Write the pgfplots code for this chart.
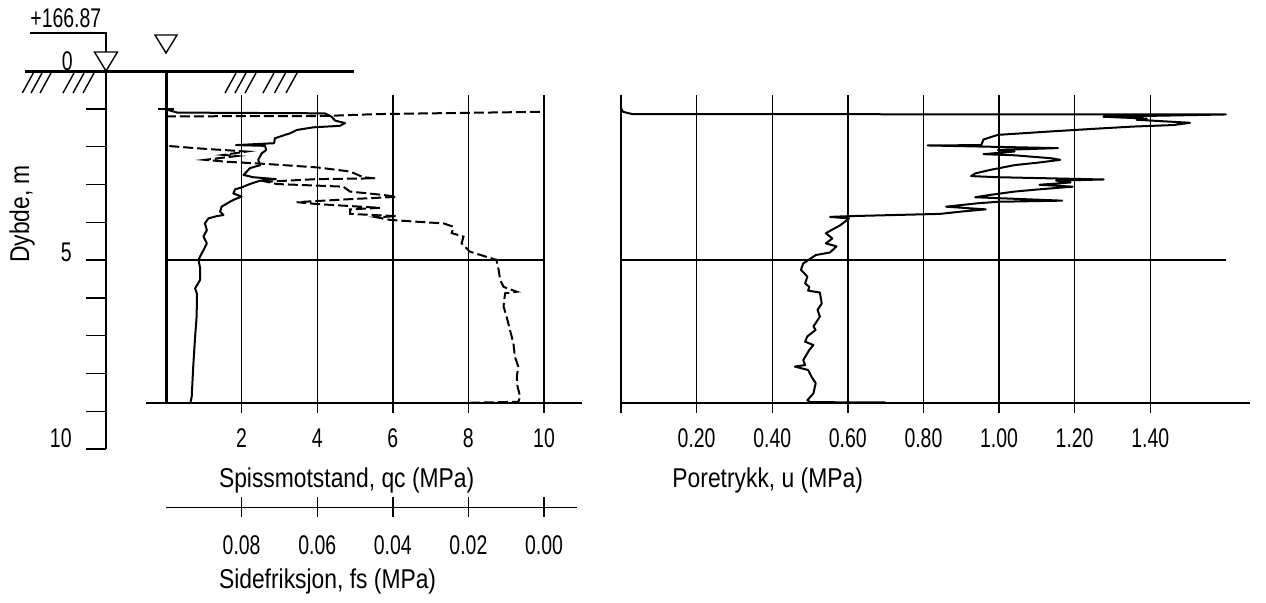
\documentclass[border=0pt]{standalone}
\usepackage{pgfplots}
\pgfplotsset{compat=1.18}
\usepackage{pgfplotstable}
\usepackage{fontspec}
\setmainfont{Liberation Sans}
\newfontfamily\numfont{Liberation Sans}[FakeStretch=0.72]
\newfontfamily\labfont{Liberation Sans}[FakeStretch=0.84]

\pgfplotstableread{
d q
1.03 0.05
1.10 0.30
1.12 4.20
1.21 4.38
1.31 4.47
1.38 4.74
1.45 4.60
1.49 3.90
1.56 3.46
1.65 3.28
1.69 3.15
1.78 2.88
1.91 2.86
1.96 1.85
1.98 2.62
2.09 2.65
2.18 2.53
2.35 2.44
2.49 2.49
2.57 2.22
2.71 2.09
2.75 2.05
2.81 2.31
2.86 2.91
2.90 2.49
2.99 2.22
3.08 2.00
3.13 1.83
3.24 1.78
3.32 2.00
3.39 1.83
3.46 1.69
3.59 1.47
3.72 1.43
3.81 1.52
3.84 1.34
3.90 1.12
4.03 1.03
4.21 1.08
4.38 0.99
4.56 1.08
4.74 0.99
4.91 0.90
5.00 0.86
5.20 0.90
5.53 0.90
5.75 0.77
5.90 0.82
6.50 0.81
7.03 0.77
7.82 0.72
8.62 0.68
8.76 0.65
}\qctab

\pgfplotstableread{
d fs
1.08 0.0011
1.14 0.0443
1.19 0.0580
1.20 0.0995
1.21 0.1000
1.97 0.1000
1.98 0.0998
2.05 0.0910
2.13 0.0787
2.22 0.0848
2.25 0.0813
2.35 0.0897
2.40 0.0840
2.46 0.0734
2.55 0.0601
2.66 0.0513
2.81 0.0478
2.84 0.0447
2.86 0.0601
2.93 0.0734
2.99 0.0707
3.06 0.0531
3.19 0.0513
3.28 0.0425
3.33 0.0390
3.39 0.0513
3.47 0.0654
3.52 0.0601
3.62 0.0434
3.66 0.0513
3.78 0.0513
3.84 0.0390
3.87 0.0443
3.94 0.0407
4.01 0.0302
4.03 0.0266
4.12 0.0240
4.29 0.0244
4.38 0.0213
4.56 0.0218
4.78 0.0196
5.00 0.0125
5.04 0.0125
5.26 0.0120
5.53 0.0116
5.71 0.0107
5.84 0.0072
5.88 0.0103
6.23 0.0107
6.50 0.0099
6.85 0.0090
7.20 0.0081
7.56 0.0077
7.82 0.0068
8.09 0.0072
8.35 0.0070
8.62 0.0063
8.75 0.0068
8.78 0.0210
}\fstab

\pgfplotstableread{
d u
0.98 0.000
1.08 0.005
1.14 0.030
1.15 1.600
1.21 1.276
1.26 1.391
1.29 1.364
1.37 1.505
1.43 1.461
1.47 1.355
1.52 1.267
1.60 1.135
1.69 0.997
1.81 0.959
1.96 0.953
1.97 0.811
2.04 1.156
2.09 0.997
2.13 1.041
2.20 0.959
2.23 1.041
2.31 1.140
2.35 1.162
2.42 1.107
2.49 1.041
2.62 0.975
2.71 0.937
2.78 0.926
2.81 0.997
2.87 1.277
2.90 1.151
2.95 1.189
3.01 1.107
3.06 1.195
3.13 1.107
3.19 1.041
3.28 0.975
3.34 0.937
3.43 1.167
3.46 0.997
3.50 0.943
3.59 0.860
3.66 0.965
3.72 0.899
3.78 0.844
3.84 0.603
3.86 0.553
3.90 0.603
3.99 0.592
4.08 0.580
4.29 0.542
4.43 0.559
4.56 0.542
4.64 0.570
4.80 0.553
4.87 0.515
5.09 0.482
5.26 0.476
5.44 0.493
5.62 0.487
5.71 0.498
5.81 0.495
5.86 0.526
6.15 0.531
6.32 0.520
6.50 0.526
6.76 0.509
6.85 0.515
7.02 0.493
7.16 0.487
7.25 0.509
7.38 0.498
7.65 0.482
7.78 0.487
7.82 0.460
7.91 0.495
8.09 0.504
8.26 0.515
8.53 0.509
8.71 0.493
8.76 0.500
8.77 0.700
}\utab

\tikzset{lab/.style={inner sep=0pt, font=\labfont\fontsize{13.6}{15}\selectfont},
         num/.style={inner sep=0pt, font=\numfont\fontsize{13.5}{15}\selectfont}}

\begin{document}
\begin{tikzpicture}
\begin{axis}[at={(0,0)}, anchor=south west, scale only axis,
  width=633pt, height=301pt,
  xmin=-4.392, xmax=29.101, ymin=-1.878, ymax=14.048,
  y dir=reverse, hide axis, clip=false]
% ground and hatching
\draw[line width=1.5pt] (axis cs:-3.73,0) -- (axis cs:4.974,0);
\draw[line width=0.7pt]
  (axis cs:-3.802,0.582) -- (axis cs:-3.511,0.053)
  (axis cs:-3.571,0.582) -- (axis cs:-3.280,0.053)
  (axis cs:-3.333,0.582) -- (axis cs:-3.042,0.053)
  (axis cs:-2.725,0.582) -- (axis cs:-2.434,0.053)
  (axis cs:-2.460,0.582) -- (axis cs:-2.169,0.053)
  (axis cs:-2.196,0.582) -- (axis cs:-1.905,0.053)
  (axis cs:1.561,0.582) -- (axis cs:1.852,0.053)
  (axis cs:1.825,0.582) -- (axis cs:2.116,0.053)
  (axis cs:2.090,0.582) -- (axis cs:2.381,0.053)
  (axis cs:2.566,0.582) -- (axis cs:2.857,0.053)
  (axis cs:2.870,0.582) -- (axis cs:3.161,0.053)
  (axis cs:3.175,0.582) -- (axis cs:3.466,0.053);
% depth axis
\draw[line width=0.7pt] (axis cs:-1.587,0) -- (axis cs:-1.587,10);
\draw[line width=0.7pt]
  (axis cs:-2.116,1) -- (axis cs:-1.587,1)
  (axis cs:-2.116,2) -- (axis cs:-1.587,2)
  (axis cs:-2.116,3) -- (axis cs:-1.587,3)
  (axis cs:-2.116,4) -- (axis cs:-1.587,4)
  (axis cs:-2.116,5) -- (axis cs:-1.587,5)
  (axis cs:-2.116,6) -- (axis cs:-1.587,6)
  (axis cs:-2.116,7) -- (axis cs:-1.587,7)
  (axis cs:-2.116,8) -- (axis cs:-1.587,8)
  (axis cs:-2.116,9) -- (axis cs:-1.587,9)
  (axis cs:-2.116,10) -- (axis cs:-1.587,10);
% elevation leader and water triangles
\draw[line width=0.7pt] (axis cs:-3.598,-1.005) -- (axis cs:-1.587,-1.005) -- (axis cs:-1.587,-0.503);
\draw[line width=0.7pt] (axis cs:-1.892,-0.503) -- (axis cs:-1.283,-0.503) -- (axis cs:-1.587,0) -- cycle;
\draw[line width=0.7pt] (axis cs:-0.291,-0.952) -- (axis cs:0.291,-0.952) -- (axis cs:0,-0.476) -- cycle;
% frame of the qc panel
\draw[line width=1.5pt] (axis cs:0,0) -- (axis cs:0,8.783);
\draw[line width=1pt] (axis cs:-0.529,8.783) -- (axis cs:11.005,8.783);
\draw[line width=0.7pt]
  (axis cs:2,0.635) -- (axis cs:2,9.05)
  (axis cs:4,0.635) -- (axis cs:4,9.05)
  (axis cs:6,0.635) -- (axis cs:6,9.05)
  (axis cs:8,0.635) -- (axis cs:8,9.05)
  (axis cs:10,0.635) -- (axis cs:10,9.05)
  (axis cs:0,5) -- (axis cs:10,5)
  (axis cs:-0.2,1) -- (axis cs:0.2,1);
% fs axis
\draw[line width=0.7pt]
  (axis cs:0,11.55) -- (axis cs:10.87,11.55)
  (axis cs:2,11.27) -- (axis cs:2,11.8)
  (axis cs:4,11.27) -- (axis cs:4,11.8)
  (axis cs:6,11.27) -- (axis cs:6,11.8)
  (axis cs:8,11.27) -- (axis cs:8,11.8)
  (axis cs:10,11.27) -- (axis cs:10,11.8);
% texts
\node[num, anchor=base west, font=\numfont\fontsize{13.5}{15}\selectfont] at (axis cs:-3.598,-1.164) {+166.87};
\node[num, anchor=base east] at (axis cs:-2.46,-0.026) {0};
\node[num, anchor=base east] at (axis cs:-2.487,5.03) {5};
\node[num, anchor=base east] at (axis cs:-2.487,9.97) {10};
\node[lab, rotate=90] at (axis cs:-3.81,3.78) {Dybde, m};
\node[num, anchor=base] at (axis cs:2,9.97) {2};
\node[num, anchor=base] at (axis cs:4,9.97) {4};
\node[num, anchor=base] at (axis cs:6,9.97) {6};
\node[num, anchor=base] at (axis cs:8,9.97) {8};
\node[num, anchor=base] at (axis cs:10,9.97) {10};
\node[lab, anchor=base west] at (axis cs:1.392,11.01) {Spissmotstand, qc (MPa)};
\node[num, anchor=base] at (axis cs:2,12.8) {0.08};
\node[num, anchor=base] at (axis cs:4,12.8) {0.06};
\node[num, anchor=base] at (axis cs:6,12.8) {0.04};
\node[num, anchor=base] at (axis cs:8,12.8) {0.02};
\node[num, anchor=base] at (axis cs:10,12.8) {0.00};
\node[lab, anchor=base west] at (axis cs:1.392,13.68) {Sidefriksjon, fs (MPa)};
% data
\addplot[line width=1pt, no marks, line join=round] table[x=q, y=d] {\qctab};
\addplot[line width=1pt, no marks, dash pattern=on 5pt off 2pt] table[x expr={10-100*\thisrow{fs}}, y=d] {\fstab};
\end{axis}

\begin{axis}[at={(0,0)}, anchor=south west, scale only axis,
  width=633pt, height=301pt,
  xmin=-1.6429, xmax=1.7063, ymin=-1.878, ymax=14.048,
  y dir=reverse, hide axis, clip=false]
\draw[line width=0.7pt]
  (axis cs:0,0.635) -- (axis cs:0,9.05)
  (axis cs:0.2,0.635) -- (axis cs:0.2,9.05)
  (axis cs:0.4,0.635) -- (axis cs:0.4,9.05)
  (axis cs:0.6,0.635) -- (axis cs:0.6,9.05)
  (axis cs:0.8,0.635) -- (axis cs:0.8,9.05)
  (axis cs:1.0,0.635) -- (axis cs:1.0,9.05)
  (axis cs:1.2,0.635) -- (axis cs:1.2,9.05)
  (axis cs:1.4,0.635) -- (axis cs:1.4,9.05)
  (axis cs:0,5) -- (axis cs:1.6,5);
\draw[line width=1pt] (axis cs:0,8.783) -- (axis cs:1.664,8.783);
\node[num, anchor=base] at (axis cs:0.2,9.97) {0.20};
\node[num, anchor=base] at (axis cs:0.4,9.97) {0.40};
\node[num, anchor=base] at (axis cs:0.6,9.97) {0.60};
\node[num, anchor=base] at (axis cs:0.8,9.97) {0.80};
\node[num, anchor=base] at (axis cs:1.0,9.97) {1.00};
\node[num, anchor=base] at (axis cs:1.2,9.97) {1.20};
\node[num, anchor=base] at (axis cs:1.4,9.97) {1.40};
\node[lab, anchor=base west] at (axis cs:0.135,11.01) {Poretrykk, u (MPa)};
\addplot[line width=1pt, no marks, line join=round] table[x=u, y=d] {\utab};
\end{axis}
\pgfresetboundingbox
\useasboundingbox (0,0) rectangle (633pt,301pt);
\end{tikzpicture}
\end{document}
